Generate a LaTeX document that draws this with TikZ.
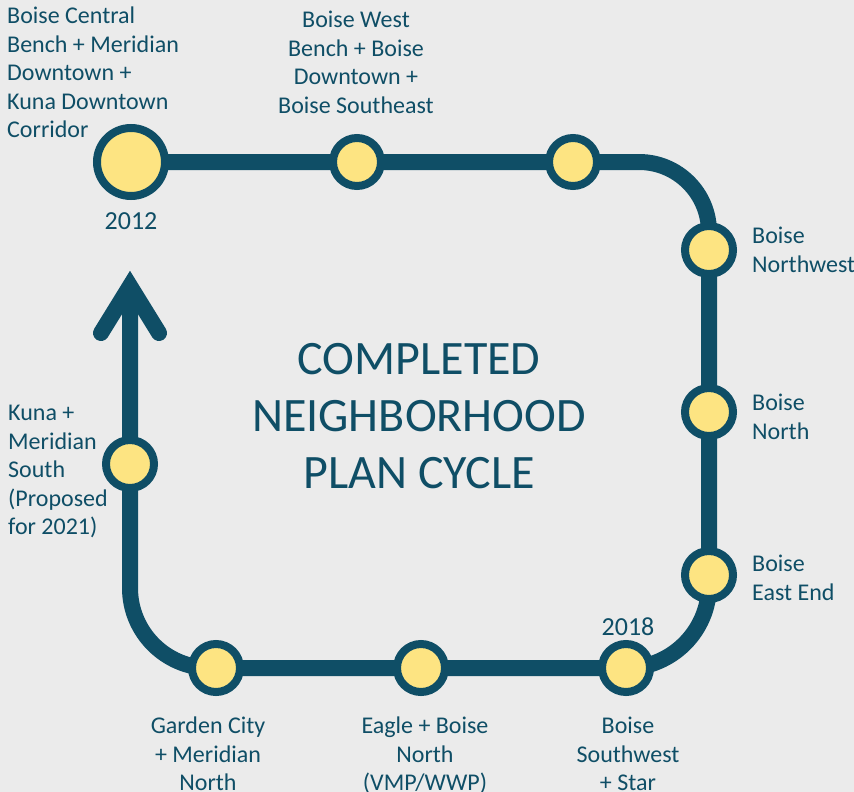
\documentclass[tikz,border=0pt]{standalone}
\usepackage{fontspec}
\setmainfont{Carlito}
\usepackage{xcolor}
\usetikzlibrary{positioning,backgrounds}

\definecolor{lineblue}{HTML}{0F4E66}
\definecolor{stopyellow}{HTML}{FDE482}
\definecolor{paper}{HTML}{EBEBEB}

\begin{document}
\begin{tikzpicture}[x=1pt, y=-1pt,
    track/.style={draw=lineblue, line width=16pt},
    stop/.style={circle, draw=lineblue, fill=stopyellow, line width=8pt, minimum size=48pt, inner sep=0pt},
    bigstop/.style={stop, minimum size=68pt},
    lbl/.style={text=lineblue, inner sep=0pt, font=\fontsize{24}{28.5}\selectfont},
    year/.style={lbl, font=\fontsize{26}{30}\selectfont}]
    \useasboundingbox (0,0) rectangle (854,792);

    % stops along the loop
    \node[bigstop] (s2012) at (131,162) {};
    \node[stop] (swest) at (357,162) {};
    \node[stop] (sse) at (573,162) {};
    \node[stop] (snw) at (709,250) {};
    \node[stop] (snorth) at (709,412) {};
    \node[stop] (seast) at (709,575) {};
    \node[stop] (s2018) at (626,668) {};
    \node[stop] (seagle) at (421,668) {};
    \node[stop] (sgarden) at (216,668) {};
    \node[stop] (skuna) at (130,464) {};

    % corners of the loop and the arrow
    \coordinate (cne) at (709,162);
    \coordinate (cse) at (709,668);
    \coordinate (csw) at (130,668);
    \coordinate (tip) at (130,286);
    \coordinate (barbl) at (101,333);
    \coordinate (barbr) at (159,333);

    \begin{pgfonlayer}{background}
        \fill[paper] (0,0) rectangle (854,792);
        \draw[track] (s2012.center) [rounded corners=70pt] -- (cne)
            [rounded corners=83pt] -- (cse)
            [rounded corners=80pt] -- (csw) [sharp corners] -- (tip);
        \draw[track, line cap=round, line join=miter] (barbl) -- (tip) -- (barbr);
    \end{pgfonlayer}

    % labels
    \node[lbl, align=left, anchor=north west] (lcentral) at (7,7)
        {Boise Central\\Bench + Meridian\\Downtown +\\Kuna Downtown\\Corridor};
    \node[lbl, align=center, anchor=north] (lwest) at (356,11)
        {Boise West\\Bench + Boise\\Downtown +\\Boise Southeast};
    \node[year, below=12pt of s2012] (l2012) {2012};
    \node[lbl, align=left, right=15pt of snw] (lnw) {Boise\\Northwest};
    \node[lbl, align=left, right=15pt of snorth, yshift=-5pt] (lnorth) {Boise\\North};
    \node[lbl, align=left, right=15pt of seast, yshift=-3pt] (least) {Boise\\East End};
    \node[year, above=4pt of s2018, xshift=2pt] (l2018) {2018};
    \node[lbl, align=center, below=21pt of s2018, xshift=2pt] (lsouthwest) {Boise\\Southwest\\+ Star};
    \node[lbl, align=center, below=21pt of seagle, xshift=4pt] (leagle) {Eagle + Boise\\North\\(VMP/WWP)};
    \node[lbl, align=center, below=21pt of sgarden, xshift=-8pt] (lgarden) {Garden City\\+ Meridian\\North};
    \node[lbl, align=left, anchor=north west] (lkuna) at (8,405)
        {Kuna +\\Meridian\\South\\(Proposed\\for 2021)};

    \node[text=lineblue, align=center, font=\fontsize{48}{57}\selectfont] (title) at (419,416)
        {COMPLETED\\NEIGHBORHOOD\\PLAN CYCLE};
\end{tikzpicture}
\end{document}
